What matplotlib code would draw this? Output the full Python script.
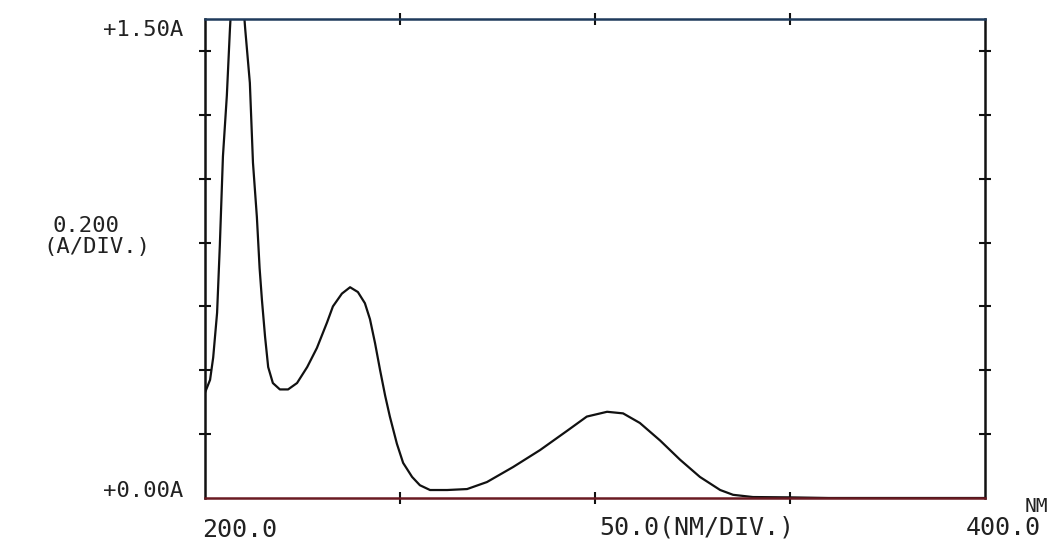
import matplotlib
matplotlib.use("Agg")
import matplotlib.pyplot as plt

# Wavelength (nm) and absorbance (A)
wavelength = [200.0, 201.3, 202.1, 203.1, 203.8, 204.6, 205.6, 206.4, 207.0, 208.2,
              209.5, 210.3, 211.5, 212.3, 213.3, 214.0, 214.6, 215.4, 216.2, 217.4,
              219.2, 221.3, 223.6, 226.2, 228.7, 231.3, 232.8, 235.1, 237.2, 239.2,
              241.0, 242.3, 243.6, 244.9, 246.2, 247.4, 249.2, 250.8, 253.1, 255.1,
              257.7, 262.1, 267.2, 272.3, 279.0, 285.9, 292.8, 297.9, 303.1, 307.2,
              311.5, 316.7, 321.8, 326.9, 332.1, 335.4, 340.5, 350.0, 360.0, 400.0]
absorbance = [0.33, 0.37, 0.44, 0.58, 0.79, 1.07, 1.26, 1.47, 1.60, 1.75,
              1.60, 1.47, 1.30, 1.05, 0.88, 0.72, 0.62, 0.505, 0.41, 0.36,
              0.34, 0.34, 0.36, 0.41, 0.47, 0.55, 0.60, 0.64, 0.66, 0.645,
              0.61, 0.56, 0.485, 0.40, 0.32, 0.255, 0.17, 0.11, 0.066, 0.04,
              0.025, 0.025, 0.028, 0.05, 0.097, 0.15, 0.21, 0.255, 0.27, 0.265,
              0.235, 0.18, 0.12, 0.066, 0.025, 0.01, 0.003, 0.002, 0.0, 0.0]

x_ticks = [250, 300, 350]
y_ticks = [0.2, 0.4, 0.6, 0.8, 1.0, 1.2, 1.4]

W, H = 1057, 547
fig = plt.figure(figsize=(W / 100, H / 100), dpi=100)
ax = fig.add_axes([205 / W, 1 - 498 / H, 780 / W, 479 / H])

ax.plot(wavelength, absorbance, color="#111111", lw=1.6)
ax.set_xlim(200, 400)
ax.set_ylim(0, 1.5)

for side in ["left", "right"]:
    ax.spines[side].set_color("#111111")
    ax.spines[side].set_linewidth(1.8)
ax.spines["top"].set_color("#1f3b5c")
ax.spines["top"].set_linewidth(1.8)
ax.spines["bottom"].set_color("#6a1a22")
ax.spines["bottom"].set_linewidth(1.8)

ax.set_xticks(x_ticks)
ax.set_yticks(y_ticks)
ax.tick_params(axis="both", direction="inout", length=8, width=1.5, color="#111111",
               labelleft=False, labelbottom=False, top=True, right=True)

font = dict(family="DejaVu Sans Mono", color="#222222")

def ftext(px, py, s, size, ha="center", va="center"):
    fig.text(px / W, 1 - py / H, s, fontsize=size, ha=ha, va=va, **font)

ftext(183, 30, "+1.50A", 16, ha="right")
ftext(86, 226, "0.200", 16)
ftext(97, 247, "(A/DIV.)", 16)
ftext(183, 491, "+0.00A", 16, ha="right")
ftext(240, 530, "200.0", 18)
ftext(697, 528, "50.0(NM/DIV.)", 18)
ftext(1003, 528, "400.0", 18)
ftext(1036, 506, "NM", 14)

fig.savefig("out.png", dpi=100, facecolor="white")
